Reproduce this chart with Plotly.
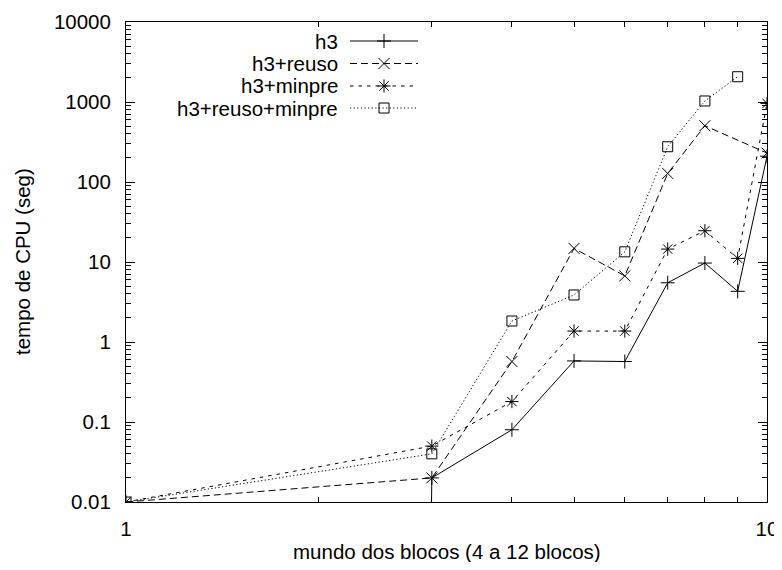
import plotly.graph_objects as go

# x: mundo dos blocos (log axis 1..10)
x_vals = [1, 3, 4, 5, 6, 7, 8, 9, 10]
# CPU time (s); 0.0 = time too small to register (drawn below the log axis)
h3 = [0.0, 0.02, 0.08, 0.58, 0.57, 5.5, 9.7, 4.3, 210]
h3_reuso = [0.01, 0.02, 0.57, 14.8, 6.7, 128, 505, None, 230]
h3_minpre = [0.01, 0.05, 0.18, 1.37, 1.37, 14.5, 24.6, 11.1, 960]
h3_reuso_minpre = [0.01, 0.04, 1.83, 3.87, 13.4, 276, 1030, 2070, None]

names = ["h3", "h3+reuso", "h3+minpre", "h3+reuso+minpre"]
series = [h3, h3_reuso, h3_minpre, h3_reuso_minpre]
y_ticks = [0.01, 0.1, 1, 10, 100, 1000, 10000]
y_tick_text = ["0.01", "0.1", "1", "10", "100", "1000", "10000"]
x_ticks = [1, 10]
x_tick_text = ["1", "10"]

dashes = ["solid", "7px,4px", "3.5px,5px", "1.2px,2.4px"]
symbols = ["cross-thin-open", "x-thin-open", "asterisk-open", "square-open"]
sizes = [10, 11, 11, 10]
FLOOR = 1e-300  # zero on a log axis: pushed far below the visible range

FONT = "Liberation Sans, Arial, Helvetica, sans-serif"
FS = 20.5
INK = "#000000"

fig = go.Figure()
for name, ys, dash, sym, sz in zip(names, series, dashes, symbols, sizes):
    yy = [None if v is None else (FLOOR if v == 0 else v) for v in ys]
    fig.add_trace(go.Scatter(
        x=x_vals, y=yy, mode="lines+markers", name=name, connectgaps=True,
        line=dict(color=INK, width=1, dash=dash),
        marker=dict(symbol=sym, size=sz, color=INK, line=dict(color=INK, width=1)),
        showlegend=False,
    ))

# custom gnuplot-style key (text left, sample right)
key_rows = [0.9604, 0.9135, 0.8667, 0.8208]
for name, dash, sym, sz, ky in zip(names, dashes, symbols, sizes, key_rows):
    fig.add_trace(go.Scatter(
        x=[0.3495, 0.4555], y=[ky, ky], mode="lines", xaxis="x2", yaxis="y2",
        line=dict(color=INK, width=1, dash=dash), showlegend=False, hoverinfo="skip",
    ))
    fig.add_trace(go.Scatter(
        x=[0.4025], y=[ky], mode="markers", xaxis="x2", yaxis="y2",
        marker=dict(symbol=sym, size=sz, color=INK, line=dict(color=INK, width=1)),
        showlegend=False, hoverinfo="skip",
    ))
    fig.add_annotation(text=name, xref="paper", yref="paper", x=0.3339, y=ky,
                       xanchor="right", yanchor="middle", showarrow=False,
                       font=dict(family=FONT, size=FS, color=INK))

axis_common = dict(
    type="log", showline=True, linecolor=INK, linewidth=1, mirror="ticks",
    ticks="inside", ticklen=9, tickwidth=1, tickcolor=INK, showgrid=False,
    zeroline=False, automargin=False, ticklabeloverflow="allow",
    tickfont=dict(family=FONT, size=FS, color=INK),
    minor=dict(ticks="inside", ticklen=5, tickwidth=1, tickcolor=INK, dtick="D1", showgrid=False),
)

# page body has an 8px margin: figure placed at (8, 8)
fig.update_layout(
    width=774, height=554,
    margin=dict(l=118, r=15, t=14, b=60),
    paper_bgcolor="white", plot_bgcolor="white",
    font=dict(family=FONT, size=FS, color=INK),
    xaxis=dict(range=[0, 1], tickvals=x_ticks, ticktext=x_tick_text,
               ticklabelstandoff=8, **axis_common),
    yaxis=dict(range=[-2, 4], tickvals=y_ticks, ticktext=y_tick_text,
               ticklabelstandoff=10, **axis_common),
    xaxis2=dict(overlaying="x", range=[0, 1], visible=False, anchor="y2"),
    yaxis2=dict(overlaying="y", range=[0, 1], visible=False, anchor="x2"),
    showlegend=False,
)

fig.add_annotation(text="mundo dos blocos (4 a 12 blocos)", xref="paper", yref="paper",
                   x=0.5, y=-0.104, xanchor="center", yanchor="middle", showarrow=False,
                   font=dict(family=FONT, size=FS, color=INK))
fig.add_annotation(text="tempo de CPU (seg)", xref="paper", yref="paper",
                   x=-0.1622, y=0.5, xanchor="center", yanchor="middle", showarrow=False,
                   textangle=-90, font=dict(family=FONT, size=FS, color=INK))

fig.write_html("out.html")
